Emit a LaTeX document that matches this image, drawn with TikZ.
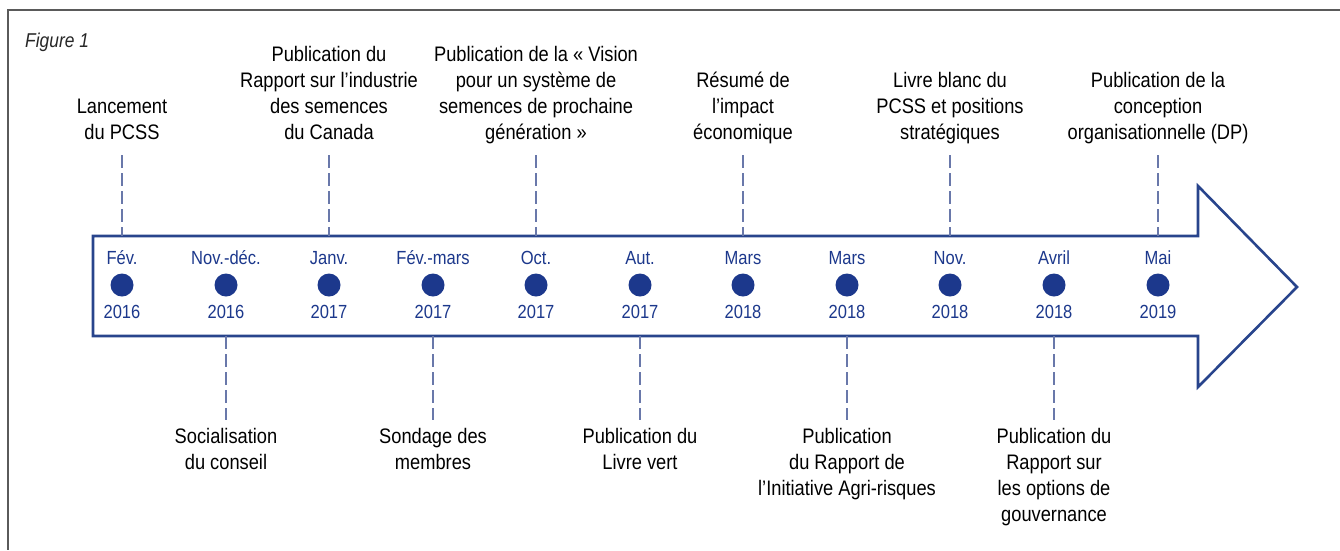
\documentclass[tikz,border=0pt]{standalone}
\usepackage{fontspec}
\setmainfont{Liberation Sans}[FakeStretch=0.87]
\definecolor{navy}{RGB}{28,56,140}
\definecolor{arrowblue}{RGB}{40,68,140}
\definecolor{dashblue}{RGB}{105,120,170}
\definecolor{framegray}{RGB}{90,90,90}
\tikzset{
  evlabel/.style={align=center, inner sep=0pt, font=\fontsize{21}{26}\selectfont, text=black},
  datelabel/.style={inner sep=0pt, font=\fontsize{19}{22}\selectfont, text=navy, anchor=base},
  evdot/.style={circle, fill=navy, draw=none, minimum size=23pt, inner sep=0pt},
  dashline/.style={draw=dashblue, line width=2.5pt, dash pattern=on 13pt off 5pt},
  arrowbody/.style={draw=arrowblue, line width=2.6pt, fill=white, line join=miter},
}
\begin{document}
\begin{tikzpicture}[x=1pt,y=-1pt]
\useasboundingbox (0,0) rectangle (1340,550);
% frame
\draw[framegray, line width=1.6pt] (1340,10) -- (8,10) -- (8,550);
\node[anchor=base west, inner sep=0pt, font=\fontsize{20}{24}\selectfont\itshape, text=black!85] (fig) at (25,47) {Figure 1};
% arrow
\draw[arrowbody] (93,236) -- (1198,236) -- (1198,186) -- (1297,287) -- (1198,387) -- (1198,336) -- (93,336) -- cycle;
\coordinate (top) at (0,236);
\coordinate (bot) at (0,336);
% events: x positions
\foreach \i/\x/\m/\y in {1/122/Fév./2016, 2/226/Nov.-déc./2016, 3/329/Janv./2017, 4/433/Fév.-mars/2017, 5/536/Oct./2017, 6/640/Aut./2017, 7/743/Mars/2018, 8/847/Mars/2018, 9/950/Nov./2018, 10/1054/Avril/2018, 11/1158/Mai/2019}{
  \node[evdot] (d\i) at (\x,285) {};
  \node[datelabel] (m\i) at (\x,264) {\m};
  \node[datelabel] (y\i) at (\x,318) {\y};
}
% upper labels
\node[evlabel, anchor=south] (u1) at (122,147.3) {Lancement\\du PCSS\strut};
\node[evlabel, anchor=south] (u3) at (329,147.3) {Publication du\\Rapport sur l’industrie\\des semences\\du Canada\strut};
\node[evlabel, anchor=south] (u5) at (536,147.3) {Publication de la « Vision\\pour un système de\\semences de prochaine\\génération »\strut};
\node[evlabel, anchor=south] (u7) at (743,147.3) {Résumé de\\l’impact\\économique\strut};
\node[evlabel, anchor=south] (u9) at (950,147.3) {Livre blanc du\\PCSS et positions\\stratégiques\strut};
\node[evlabel, anchor=south] (u11) at (1158,147.3) {Publication de la\\conception\\organisationnelle (DP)\strut};
% lower labels
\node[evlabel, anchor=north] (l2) at (226,425.3) {\strut Socialisation\\du conseil};
\node[evlabel, anchor=north] (l4) at (433,425.3) {\strut Sondage des\\membres};
\node[evlabel, anchor=north] (l6) at (640,425.3) {\strut Publication du\\Livre vert};
\node[evlabel, anchor=north] (l8) at (847,425.3) {\strut Publication\\du Rapport de\\l’Initiative Agri-risques};
\node[evlabel, anchor=north] (l10) at (1054,425.3) {\strut Publication du\\Rapport sur\\les options de\\gouvernance};
% dashed connectors
\foreach \n in {u1,u3,u5,u7,u9,u11}{
  \draw[dashline, shorten <=7.7pt] (\n.south) -- (\n.south |- top);
}
\foreach \n in {l2,l4,l6,l8,l10}{
  \draw[dashline, shorten >=5.3pt] (\n.north |- bot) -- (\n.north);
}
\end{tikzpicture}
\end{document}
